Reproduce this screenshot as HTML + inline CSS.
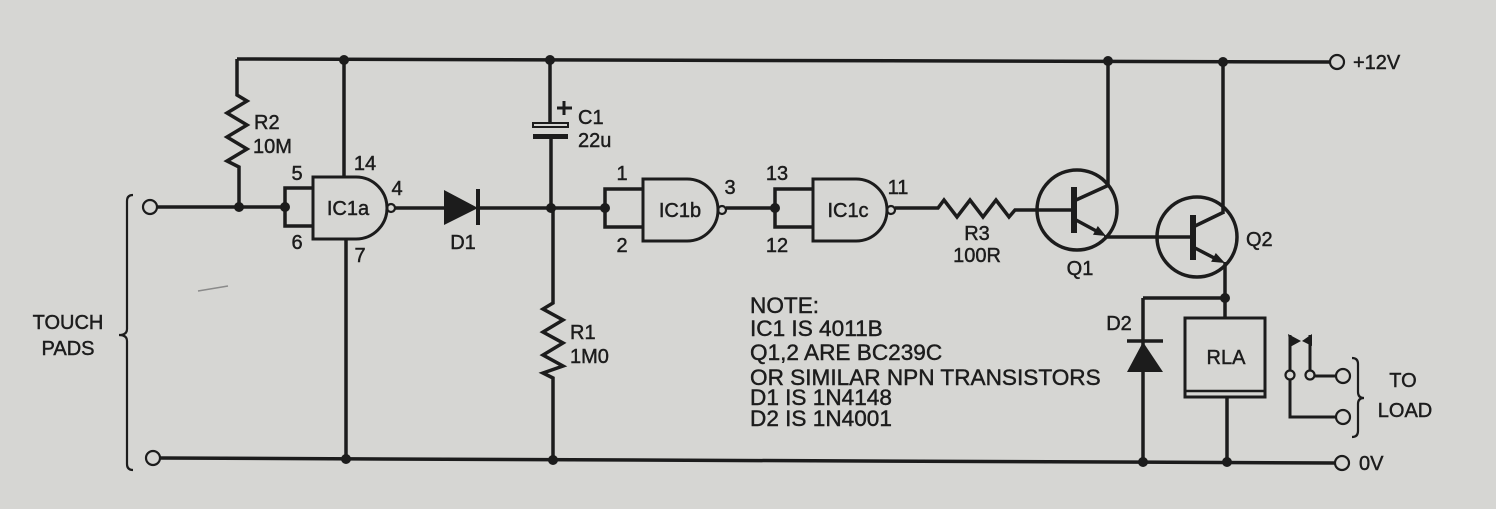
<!DOCTYPE html>
<html><head><meta charset="utf-8"><style>
html,body{margin:0;padding:0;background:#d6d6d3;}
svg{display:block;}
text{font-family:"Liberation Sans",Arial,sans-serif;fill:#1c1c1c;font-size:20px;stroke:#1c1c1c;stroke-width:0.45px;}
.n{font-size:22.6px;}
</style></head><body>
<svg width="1496" height="509" viewBox="0 0 1496 509" xmlns="http://www.w3.org/2000/svg">
<rect width="1496" height="509" fill="#d6d6d3"/>
<g stroke="#1c1c1c" stroke-width="3.5" fill="none" stroke-linejoin="miter">
<!-- rails -->
<path d="M237,59 L1330,62"/>
<path d="M160,458 L1335,463"/>
<!-- R2 -->
<path d="M237,59 V95 L247,101 L227,113 L247,125 L227,137 L247,149 L227,161 L239,167 V207"/>
<!-- input wire -->
<path d="M157,207 H285"/>
<!-- IC1a -->
<path d="M344,60 V177"/>
<path d="M346,239 V459"/>
<path d="M313,177 H356 A31,31 0 0 1 356,239 H313 Z" stroke-width="3"/>
<path d="M313,188 H285 V226 H313"/>
<path d="M395,208 H444"/>
<!-- D1 -->
<path d="M478,208 H605"/>
<!-- C1 -->
<path d="M550,60 V123"/>
<path d="M551,139 V208"/>
<rect x="533" y="123" width="35" height="4" stroke-width="2"/>
<!-- R1 -->
<path d="M553,208 V303 L543,309 L563,320 L543,332 L563,343 L543,355 L563,366 L543,373 L553,378 V460"/>
<!-- IC1b -->
<path d="M643,179 H687 A31,31 0 0 1 687,241 H643 Z" stroke-width="3"/>
<path d="M643,189 H605 V227 H643"/>
<path d="M726,208 H775"/>
<!-- IC1c -->
<path d="M813,179 H856 A31,31 0 0 1 856,241 H813 Z" stroke-width="3"/>
<path d="M813,189 H775 V227 H813"/>
<path d="M895,208 H938 L944,200 L957,217 L970,200 L983,217 L996,200 L1009,217 L1015,210 H1074"/>
<!-- Q1 -->
<circle cx="1077" cy="210" r="40"/>
<path d="M1076,200 L1109,185 M1108,187 V61"/>
<path d="M1076,220 L1100,233"/>
<path d="M1104,237 H1193"/>
<!-- Q2 -->
<circle cx="1197" cy="237" r="40"/>
<path d="M1195,226 L1224,212 M1223,214 V62"/>
<path d="M1195,248 L1218,260"/>
<path d="M1225,262 V318"/>
<path d="M1143,298 H1225"/>
<!-- D2 -->
<path d="M1143,298 V462"/>
<path d="M1127,341 H1163"/>
<!-- RLA -->
<rect x="1185" y="318" width="80" height="79" stroke-width="3"/>
<path d="M1185,391 H1265" stroke-width="2.5"/>
<path d="M1227,397 V462"/>
<!-- contacts -->
<path d="M1290,335 V371 M1290,380 V417 H1336" stroke-width="3"/>
<path d="M1310,335 V371 M1314,376 H1336" stroke-width="3"/>
</g>
<g stroke="#1c1c1c" stroke-width="2.2" fill="none">
<circle cx="150" cy="207" r="7"/>
<circle cx="153" cy="458" r="7"/>
<circle cx="1337" cy="62" r="7"/>
<circle cx="1342" cy="463" r="7"/>
<circle cx="1343" cy="417" r="7"/>
<circle cx="1343" cy="376" r="7"/>
<circle cx="1290" cy="375" r="4.5"/>
<circle cx="1310" cy="375" r="4.5"/>
<circle cx="391" cy="208" r="4"/>
<circle cx="722" cy="210" r="4"/>
<circle cx="891" cy="210" r="4"/>
<path d="M133,195 Q127,195 127,201 V329 Q127,335 119,335 Q127,335 127,341 V464 Q127,470 133,470"/>
<path d="M1352,358 Q1358,358 1358,364 V392 Q1358,398 1364,398 Q1358,398 1358,404 V431 Q1358,437 1352,437"/>
<path d="M557,108 H572 M564,101 V115" stroke-width="3"/>
</g>
<g fill="#1c1c1c">
<circle cx="344" cy="60" r="5"/>
<circle cx="550" cy="60" r="5"/>
<circle cx="1108" cy="61" r="5"/>
<circle cx="1223" cy="62" r="5"/>
<circle cx="239" cy="207" r="5"/>
<circle cx="285" cy="207" r="5"/>
<circle cx="551" cy="208" r="5"/>
<circle cx="605" cy="208" r="5"/>
<circle cx="775" cy="208" r="5"/>
<circle cx="346" cy="459" r="5"/>
<circle cx="553" cy="460" r="5"/>
<circle cx="1143" cy="462" r="5"/>
<circle cx="1227" cy="462" r="5"/>
<circle cx="1225" cy="298" r="5"/>
<polygon points="444,190 444,225 478,208"/>
<rect x="476" y="189" width="4" height="36"/>
<rect x="533" y="134" width="35" height="5"/>
<rect x="1071" y="187" width="6" height="46"/>
<rect x="1190" y="215" width="6" height="45"/>
<polygon points="1106,236 1093,234.8 1097.8,226"/>
<polygon points="1225,263 1211.1,261.8 1215.8,253"/>
<polygon points="1143,342 1127,372 1163,372"/>
<polygon points="1288,334 1301,341 1290,347"/>
<polygon points="1312,334 1302,341 1312,346"/>
</g>
<path d="M198,291 L228,286" stroke="#8a8a8a" stroke-width="1.5"/>
<text x="254" y="129">R2</text>
<text x="253" y="153">10M</text>
<text x="297" y="180" text-anchor="middle">5</text>
<text x="365" y="170" text-anchor="middle">14</text>
<text x="397" y="195" text-anchor="middle">4</text>
<text x="297" y="249" text-anchor="middle">6</text>
<text x="360" y="262" text-anchor="middle">7</text>
<text x="348" y="215" text-anchor="middle">IC1a</text>
<text x="463" y="249" text-anchor="middle">D1</text>
<text x="578" y="124">C1</text>
<text x="578" y="147">22u</text>
<text x="622" y="180" text-anchor="middle">1</text>
<text x="622" y="252" text-anchor="middle">2</text>
<text x="730" y="194" text-anchor="middle">3</text>
<text x="680" y="217" text-anchor="middle">IC1b</text>
<text x="777" y="180" text-anchor="middle">13</text>
<text x="777" y="252" text-anchor="middle">12</text>
<text x="898" y="194" text-anchor="middle">11</text>
<text x="848" y="217" text-anchor="middle">IC1c</text>
<text x="977" y="240" text-anchor="middle">R3</text>
<text x="977" y="262" text-anchor="middle">100R</text>
<text x="1080" y="275" text-anchor="middle">Q1</text>
<text x="1246" y="246">Q2</text>
<text x="1353" y="69">+12V</text>
<text x="570" y="339">R1</text>
<text x="570" y="363">1M0</text>
<text class="n" x="750" y="313">NOTE:</text>
<text class="n" x="750" y="336">IC1 IS 4011B</text>
<text class="n" x="750" y="360">Q1,2 ARE BC239C</text>
<text class="n" x="750" y="385">OR SIMILAR NPN TRANSISTORS</text>
<text class="n" x="750" y="405">D1 IS 1N4148</text>
<text class="n" x="750" y="426">D2 IS 1N4001</text>
<text x="1119" y="330" text-anchor="middle">D2</text>
<text x="1226" y="364" text-anchor="middle">RLA</text>
<text x="1403" y="387" text-anchor="middle">TO</text>
<text x="1405" y="417" text-anchor="middle">LOAD</text>
<text x="1359" y="470">0V</text>
<text x="68" y="329" text-anchor="middle">TOUCH</text>
<text x="68" y="355" text-anchor="middle">PADS</text>
</svg>
</body></html>
